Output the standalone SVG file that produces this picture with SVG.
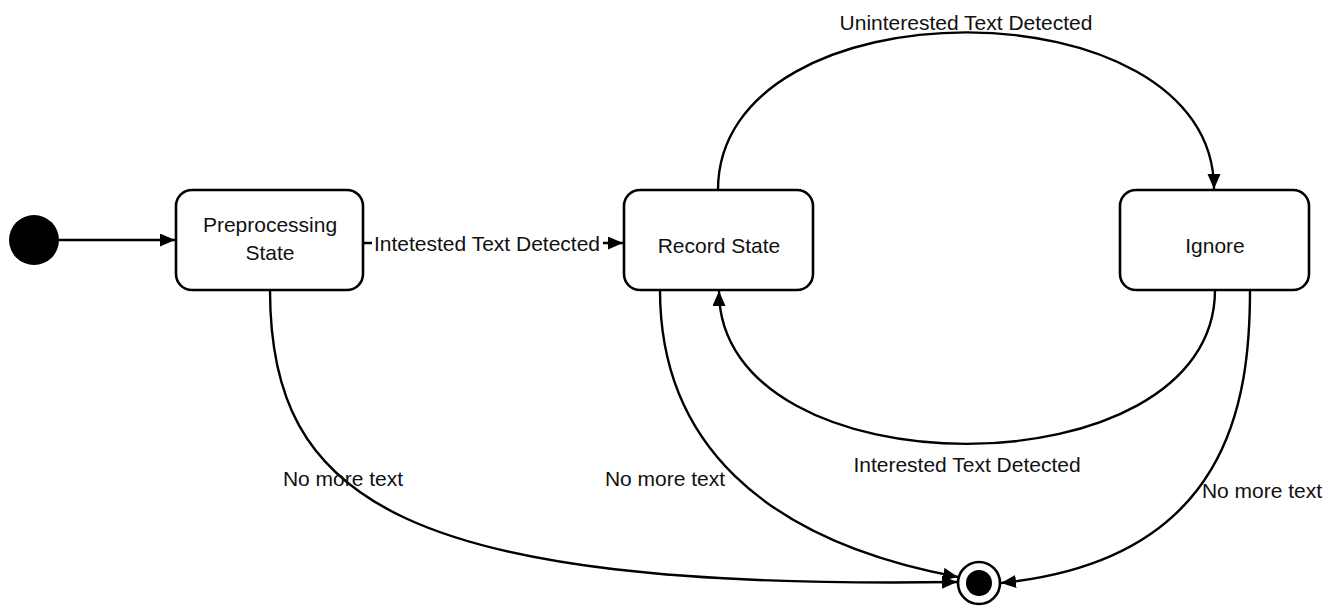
<svg xmlns="http://www.w3.org/2000/svg" width="1326" height="611" viewBox="0 0 1326 611">
<style>
.state{fill:#fff;stroke:#000;stroke-width:2.6}
.edge{fill:none;stroke:#000;stroke-width:2.4;marker-end:url(#arr)}
text{font-family:"Liberation Sans",Arial,sans-serif;font-size:21px;fill:#111;text-anchor:middle}
</style>
<defs>
<marker id="arr" markerUnits="userSpaceOnUse" markerWidth="16" markerHeight="14" refX="15" refY="6.5" orient="auto">
<path d="M0,0 L15,6.5 L0,13 z" fill="#000"/>
</marker>
</defs>
<g id="connectors">
<path class="edge" d="M59 240 L175 240"/>
<path class="edge" d="M363 243 L623 243"/>
<path class="edge" d="M718 190 C718 -20 1214 -20 1214 189"/>
<path class="edge" d="M1215 290 C1215 495 719 495 719 291"/>
<path class="edge" d="M270 290 C270 500 400 590 957 582"/>
<path class="edge" d="M660 290 C660 440 760 540 958 577"/>
<path class="edge" d="M1250 290 C1250 400 1230 560 1001 583"/>
<rect x="372" y="230" width="231" height="26" fill="#fff"/>
<text x="487" y="251">Intetested Text Detected</text>
<text x="966" y="30">Uninterested Text Detected</text>
<text x="967" y="472">Interested Text Detected</text>
<text x="343" y="486">No more text</text>
<text x="665" y="486">No more text</text>
<text x="1262" y="498">No more text</text>
</g>
<g id="initial">
<circle cx="34" cy="240" r="25" fill="#000"/>
</g>
<g id="preprocessing">
<rect class="state" x="176" y="190" width="187" height="100" rx="16"/>
<text x="270" y="232">Preprocessing</text>
<text x="270" y="260">State</text>
</g>
<g id="record">
<rect class="state" x="624" y="190" width="189" height="100" rx="16"/>
<text x="719" y="253">Record State</text>
</g>
<g id="ignore">
<rect class="state" x="1120" y="190" width="189" height="100" rx="16"/>
<text x="1215" y="253">Ignore</text>
</g>
<g id="final">
<circle cx="979" cy="583" r="21" fill="#fff" stroke="#000" stroke-width="2.6"/>
<circle cx="979" cy="583" r="13" fill="#000"/>
</g>
</svg>
